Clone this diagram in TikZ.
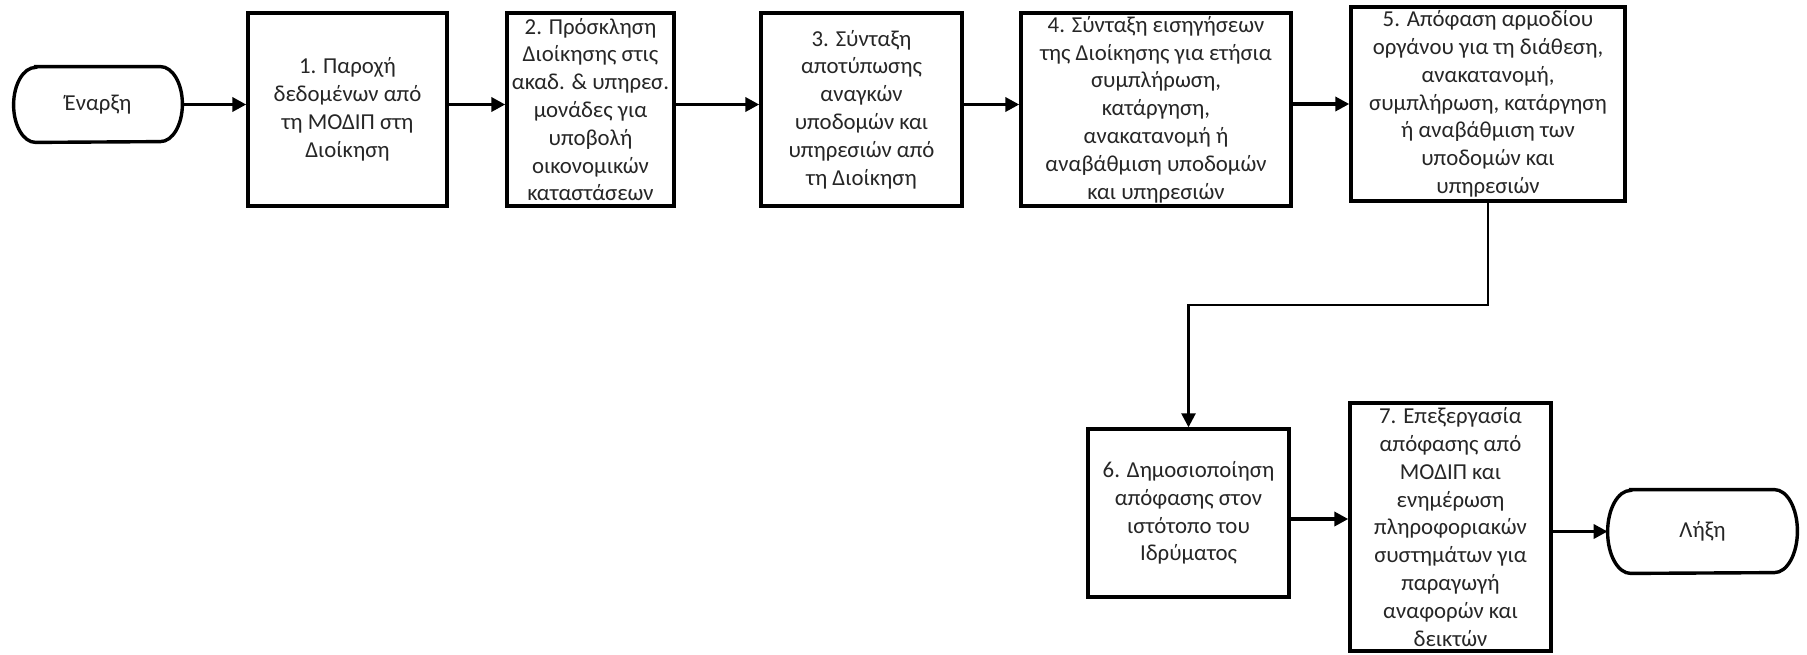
\documentclass[tikz,border=0pt]{standalone}
\usepackage{fontspec}
\setmainfont{Carlito}
\usetikzlibrary{arrows.meta}

\tikzset{
  boxline/.style={line width=1.7pt, draw=black},
  stepbox/.style={boxline, fill=white, align=center, inner sep=0pt,
    font=\fontsize{11.4pt}{13.9pt}\selectfont, text=black!85},
  termtext/.style={align=center, inner sep=0pt,
    font=\fontsize{11.4pt}{13.9pt}\selectfont, text=black!85},
  flow/.style={line width=1.9pt, -{Triangle[length=7pt,width=7pt]}},
  elbowflow/.style={line width=1.3pt, -{Triangle[length=7pt,width=7pt]}},
}

% outline of a terminator with elliptical ends
\newcommand\terminator[3]{%
  \draw[boxline] ([xshift=#2]#1.north west) -- ([xshift=-#2]#1.north east)
    arc[start angle=90, end angle=-90, x radius=#2, y radius=#3]
    -- ([xshift=#2]#1.south west)
    arc[start angle=270, end angle=90, x radius=#2, y radius=#3] -- cycle;}

\begin{document}
\begin{tikzpicture}[x=0.5pt, y=-0.5pt]
\useasboundingbox (0,0) rectangle (1807,654);

% start and end terminators
\node[termtext, minimum width=84pt, minimum height=37.5pt] (start) at (98,104.5) {Έναρξη};
\terminator{start}{11pt}{18.75pt}
\node[termtext, minimum width=94.5pt, minimum height=41.5pt] (end) at (1702.5,531.5) {Λήξη};
\terminator{end}{11.5pt}{20.75pt}

% process steps, top row
\node[stepbox, minimum width=99.5pt, minimum height=96.5pt] (b1) at (347.5,109.5)
  {1. Παροχή\\δεδομένων από\\τη ΜΟΔΙΠ στη\\Διοίκηση};
\node[stepbox, minimum width=83.5pt, minimum height=96.5pt] (b2) at (590.5,109.5)
  {2. Πρόσκληση\\Διοίκησης στις\\ακαδ. \& υπηρεσ.\\μονάδες για\\υποβολή\\οικονομικών\\καταστάσεων};
\node[stepbox, minimum width=100.5pt, minimum height=96.5pt] (b3) at (861.5,109.5)
  {3. Σύνταξη\\αποτύπωσης\\αναγκών\\υποδομών και\\υπηρεσιών από\\τη Διοίκηση};
\node[stepbox, minimum width=135pt, minimum height=96.5pt] (b4) at (1156,109.5)
  {4. Σύνταξη εισηγήσεων\\της Διοίκησης για ετήσια\\συμπλήρωση,\\κατάργηση,\\ανακατανομή ή\\αναβάθμιση υποδομών\\και υπηρεσιών};
\node[stepbox, minimum width=137pt, minimum height=97pt] (b5) at (1488,104)
  {5. Απόφαση αρμοδίου\\οργάνου για τη διάθεση,\\ανακατανομή,\\συμπλήρωση, κατάργηση\\ή αναβάθμιση των\\υποδομών και\\υπηρεσιών};

% process steps, bottom row
\node[stepbox, minimum width=100.5pt, minimum height=84pt] (b6) at (1188.5,513)
  {6. Δημοσιοποίηση\\απόφασης στον\\ιστότοπο του\\Ιδρύματος};
\node[stepbox, minimum width=100.5pt, minimum height=124pt] (b7) at (1450.5,527)
  {7. Επεξεργασία\\απόφασης από\\ΜΟΔΙΠ και\\ενημέρωση\\πληροφοριακών\\συστημάτων για\\παραγωγή\\αναφορών και\\δεικτών};

% connectors
\draw[flow] (start.east) -- (start.east -| b1.west);
\draw[flow] (b1.east |- start) -- (b2.west |- start);
\draw[flow] (b2.east |- start) -- (b3.west |- start);
\draw[flow] (b3.east |- start) -- (b4.west |- start);
\draw[flow] (b4.east |- b5) -- (b5.west);

\coordinate (elbow) at (1300,305);
\draw[elbowflow] (b5.south) |- (elbow) -| (b6.north);

\draw[flow] ([yshift=-3pt]b6.east) -- ([yshift=-3pt]b6.east -| b7.west);
\draw[flow] (b7.east |- end) -- (end.west);
\end{tikzpicture}
\end{document}
